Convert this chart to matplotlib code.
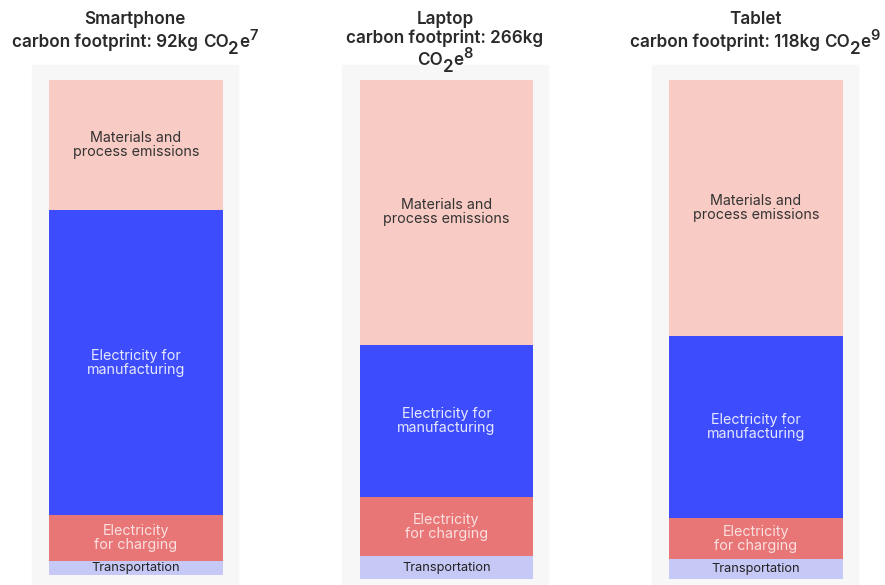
import matplotlib
matplotlib.use("Agg")
import matplotlib.pyplot as plt
from matplotlib.patches import Rectangle

plt.rcParams['font.family'] = ['Inter', 'DejaVu Sans']

devices = ["Smartphone", "Laptop", "Tablet"]
totals = ["92kg", "266kg", "118kg"]
refs = ["7", "8", "9"]

# share of each device's footprint, percent (bottom to top)
segments = ["Transportation", "Electricity\nfor charging",
            "Electricity for\nmanufacturing", "Materials and\nprocess emissions"]
smartphone = [2.8, 9.3, 61.6, 26.3]
laptop = [4.6, 11.8, 30.5, 53.1]
tablet = [4.0, 8.2, 36.5, 51.3]
shares = [smartphone, laptop, tablet]

colors = ["#c6c8f6", "#e87676", "#3d4dfd", "#f8cbc4"]
text_colors = ["#222222", "#fbe0e0", "#e6e8ff", "#333333"]
text_sizes = [9.2, 10.3, 10.3, 10.3]

W, H = 885, 585
TITLE_SIZE = 12.3
fig = plt.figure(figsize=(W / 100, H / 100), dpi=100)
renderer = fig.canvas.get_renderer()


def rich_line(cx, cy, pieces):
    """Draw a line of text pieces (text, size scale, vertical px offset) centred at cx."""
    arts = []
    for txt, scale, dy in pieces:
        t = fig.text(0, 0, txt, ha="left", va="baseline",
                     fontsize=TITLE_SIZE * scale, fontweight="semibold",
                     color="#2a2a2a")
        arts.append((t, dy))
    widths = [t.get_window_extent(renderer).width for t, _ in arts]
    x = cx - sum(widths) / 2
    for (t, dy), w in zip(arts, widths):
        t.set_position((x / W, 1 - (cy - dy) / H))
        x += w


# panel layout in pixels: gray box left/right, bar left/right, bar top/bottom
boxes = [(32, 238), (342, 548), (652, 858)]
bars = [(49, 223, 80, 575), (360, 533, 80, 579), (669, 843, 80, 579)]
baselines = [[24, 47], [24, 43, 65], [24, 47]]

for i, dev in enumerate(devices):
    bx0, bx1 = boxes[i]
    fig.add_artist(Rectangle((bx0 / W, 0), (bx1 - bx0) / W, (H - 65) / H,
                             transform=fig.transFigure, color="#f7f7f7", zorder=0))
    l, r, t, b = bars[i]
    ax = fig.add_axes([l / W, (H - b) / H, (r - l) / W, (b - t) / H])
    ax.set_xlim(0, 1)
    ax.set_ylim(0, 100)
    ax.axis('off')
    bottom = 0
    for j, val in enumerate(shares[i]):
        ax.bar(0.5, val, width=1, bottom=bottom, color=colors[j],
               edgecolor="none")
        ax.text(0.5, bottom + val / 2, segments[j], ha="center", va="center",
                color=text_colors[j], fontsize=text_sizes[j], linespacing=1.0)
        bottom += val

    cx = (bx0 + bx1) / 2
    co2 = [("CO", 1, 0), ("2", 1, -6.5), ("e", 1, 0), (refs[i], 0.85, 7)]
    by = baselines[i]
    rich_line(cx, by[0], [(dev, 1, 0)])
    if i == 1:
        rich_line(cx, by[1], [(f"carbon footprint: {totals[i]}", 1, 0)])
        rich_line(cx, by[2], co2)
    else:
        rich_line(cx, by[1], [(f"carbon footprint: {totals[i]} ", 1, 0)] + co2)

fig.savefig("out.png", dpi=100, facecolor="white")
